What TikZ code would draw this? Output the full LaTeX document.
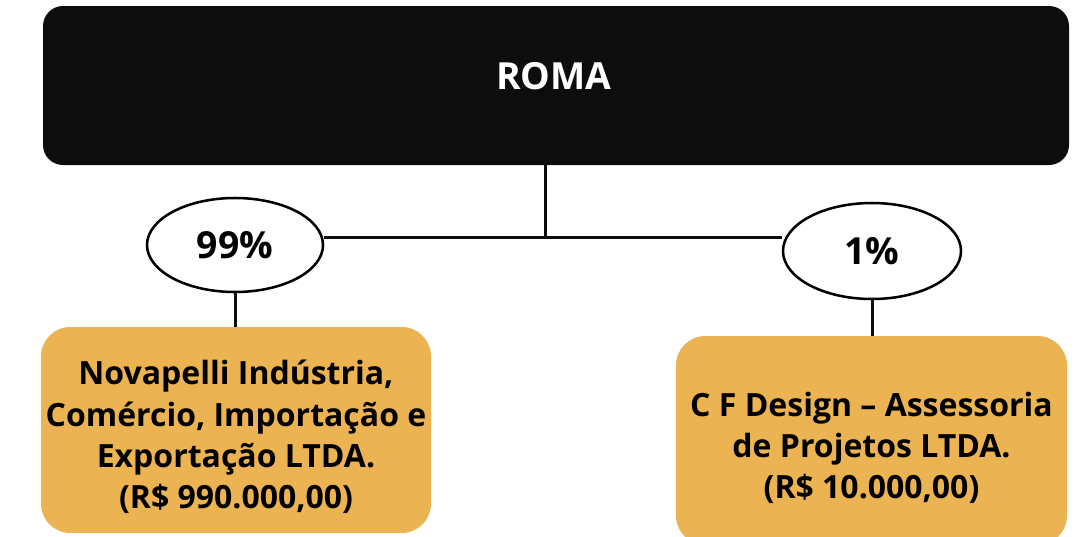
\documentclass[tikz,border=0pt]{standalone}
\usepackage{fontspec}
\setmainfont{Open Sans}
\usetikzlibrary{shapes.geometric}
\definecolor{boxblack}{HTML}{0D0D0D}
\definecolor{gold}{HTML}{EBB351}
\begin{document}
\begin{tikzpicture}[x=0.75pt,y=-0.75pt,
  topbox/.style={rectangle, rounded corners=15pt, fill=boxblack, draw=none,
    minimum width=769.5pt, minimum height=119.25pt, inner sep=0pt},
  toptext/.style={text=white, inner sep=0pt, font=\bfseries\fontsize{28}{32}\selectfont},
  pctnode/.style={ellipse, draw=black, line width=1.9pt, fill=white, inner sep=0pt,
    font=\bfseries\fontsize{28}{32}\selectfont},
  subbox/.style={rectangle, rounded corners=22pt, fill=gold, draw=none, inner sep=0pt},
  subtext/.style={inner sep=0pt, align=center, font=\bfseries\fontsize{24}{31}\selectfont},
  conn/.style={draw=boxblack, line width=2.25pt}]
\useasboundingbox (0,0) rectangle (1088,536);
\node[topbox] (roma) at (556,85.5) {};
\node[toptext] (romat) at (554,76.5) {ROMA};
\node[pctnode, minimum width=132pt, minimum height=70.5pt] (e1) at (235,245) {99\%};
\node[pctnode, minimum width=133.5pt, minimum height=72pt] (e2) at (872,251) {1\%};
\node[subbox, minimum width=292.5pt, minimum height=154.5pt] (b1) at (236,430) {};
\node[subtext] (b1t) at (236,437)
  {Novapelli Indústria,\\Comércio, Importação e\\Exportação LTDA.\\(R\$ 990.000,00)};
\node[subbox, minimum width=293.25pt, minimum height=156.75pt] (b2) at (871.5,440.5) {};
\node[subtext] (b2t) at (871.5,448)
  {C F Design – Assessoria\\de Projetos LTDA.\\(R\$ 10.000,00)};
\coordinate (j) at (545,237);
\draw[conn] (roma.south -| j) -- (j);
\draw[conn] (e1.east |- j) -- (e2.west |- j);
\draw[conn] (e1.south) -- (b1.north -| e1.south);
\draw[conn] (e2.south) -- (b2.north -| e2.south);
\end{tikzpicture}
\end{document}
